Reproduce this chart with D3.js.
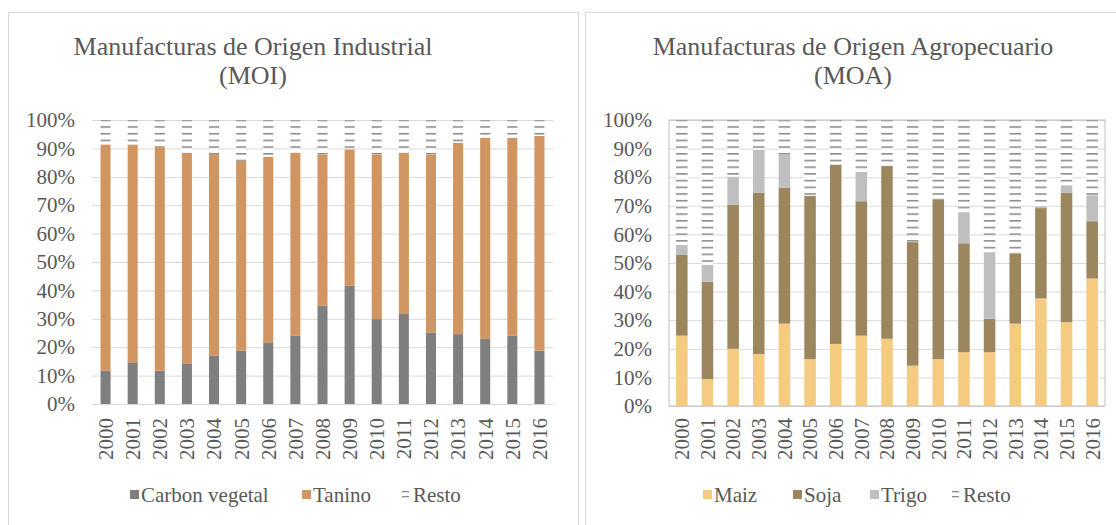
<!DOCTYPE html>
<html>
<head>
<meta charset="utf-8">
<script src="https://cdn.jsdelivr.net/npm/d3@7"></script>
<style>
  body { margin: 0; background: #fff; }
  text { font-family: "Liberation Serif", "Times New Roman", Times, serif; fill: #595959; }
</style>
</head>
<body>
<div id="chart"></div>
<script>
// years on the x axis (both charts)
var years = ["2000", "2001", "2002", "2003", "2004", "2005", "2006", "2007", "2008",
  "2009", "2010", "2011", "2012", "2013", "2014", "2015", "2016"];
var yTicks = [0, 10, 20, 30, 40, 50, 60, 70, 80, 90, 100];
var yTickLabels = ["0%", "10%", "20%", "30%", "40%", "50%", "60%", "70%", "80%", "90%", "100%"];

// MOI shares (%)
var carbonVegetal = [11.7, 14.7, 11.7, 14.1, 17.0, 18.8, 21.7, 24.0, 34.6, 41.6, 29.9, 31.7, 25.2, 24.6, 22.9, 24.0, 18.8];
var tanino = [79.7, 76.7, 78.8, 74.4, 71.0, 66.8, 65.4, 64.5, 53.3, 48.1, 58.0, 56.8, 62.7, 67.4, 70.9, 69.8, 75.6];
var restoMOI = [8.6, 8.6, 9.5, 11.5, 12.0, 14.4, 12.9, 11.5, 12.1, 10.3, 12.1, 11.5, 12.1, 8.0, 6.2, 6.2, 5.6];

// MOA shares (%)
var maiz = [24.6, 9.4, 20.0, 18.2, 28.8, 16.4, 21.7, 24.6, 23.5, 14.1, 16.4, 18.8, 18.8, 28.8, 37.6, 29.3, 44.6];
var soja = [28.2, 34.0, 50.4, 56.3, 47.5, 57.0, 62.6, 47.0, 60.4, 43.2, 55.9, 38.1, 11.7, 24.6, 31.6, 45.2, 20.0];
var trigo = [3.5, 5.9, 9.8, 15.1, 11.5, 0.2, 0.2, 10.3, 0.2, 0.4, 0.3, 10.9, 23.3, 0.3, 0.2, 2.7, 9.1];
var restoMOA = [43.7, 50.7, 19.8, 10.4, 12.2, 26.4, 15.5, 18.1, 15.9, 42.3, 27.4, 32.2, 46.2, 46.3, 30.6, 22.8, 26.3];

var serif = "'Liberation Serif', 'Times New Roman', Times, serif";

var svg = d3.select("#chart")
  .append("svg")
  .attr("width", 1116)
  .attr("height", 525)
  .attr("font-family", serif);

// hatched fill for "Resto": short horizontal dashes
var defs = svg.append("defs");
var pat = defs.append("pattern")
  .attr("id", "resto")
  .attr("patternUnits", "userSpaceOnUse")
  .attr("width", 20)
  .attr("height", 6.7)
  .attr("y", 119.5);
pat.append("rect").attr("width", 20).attr("height", 6.7).attr("fill", "#fff");
pat.append("rect").attr("y", 0).attr("width", 20).attr("height", 1.6).attr("fill", "#8c8c8c");

// panel frames
svg.append("rect")
  .attr("x", 8.5).attr("y", 12.5).attr("width", 570).attr("height", 530)
  .attr("fill", "none").attr("stroke", "#d9d9d9");
svg.append("rect")
  .attr("x", 585.5).attr("y", 12.5).attr("width", 540).attr("height", 530)
  .attr("fill", "none").attr("stroke", "#d9d9d9");

function drawPanel(opts) {
  var rows = years.map(function(y, i) {
    var r = { year: y };
    opts.series.forEach(function(s) { r[s.name] = s.values[i]; });
    return r;
  });

  var xScale = d3.scaleBand()
    .domain(years)
    .range([opts.left, opts.right])
    .paddingInner(opts.pad)
    .paddingOuter(opts.pad / 2);
  var yScale = d3.scaleLinear().domain([0, 100]).range([opts.bottom, opts.top]);

  var g = svg.append("g");

  // gridlines + y labels
  var yAxis = d3.axisLeft(yScale)
    .tickValues(yTicks)
    .tickSize(-(opts.right - opts.left))
    .tickPadding(17)
    .tickFormat(function(d, i) { return yTickLabels[i]; });
  var ya = g.append("g")
    .attr("transform", "translate(" + opts.left + ",0)")
    .call(yAxis)
    .attr("font-family", serif)
    .attr("font-size", 21);
  ya.select(".domain").remove();
  ya.selectAll("line").attr("stroke", "#d9d9d9");
  ya.selectAll("text").attr("fill", "#595959");

  if (opts.frame) {
    g.append("rect")
      .attr("x", opts.left).attr("y", yScale(100))
      .attr("width", opts.right - opts.left).attr("height", yScale(0) - yScale(100))
      .attr("fill", "none").attr("stroke", "#bfbfbf");
  }

  // stacked bars
  var stack = d3.stack().keys(opts.series.map(function(s) { return s.name; }));
  var layers = stack(rows);
  g.selectAll(".layer")
    .data(layers)
    .enter().append("g")
      .attr("class", "layer")
      .attr("fill", function(d, i) { return opts.series[i].color; })
    .selectAll("rect")
    .data(function(d) { return d; })
    .enter().append("rect")
      .attr("x", function(d) { return xScale(d.data.year); })
      .attr("width", xScale.bandwidth())
      .attr("y", function(d) { return yScale(d[1]); })
      .attr("height", function(d) { return yScale(d[0]) - yScale(d[1]); });

  // x labels, rotated
  var xAxis = d3.axisBottom(xScale).tickSize(0);
  var xa = g.append("g")
    .attr("transform", "translate(0," + opts.bottom + ")")
    .call(xAxis)
    .attr("font-family", serif)
    .attr("font-size", 21);
  xa.select(".domain").remove();
  xa.selectAll("text")
    .attr("transform", "rotate(-90)")
    .attr("text-anchor", "end")
    .attr("x", -opts.labelGap)
    .attr("y", 0)
    .attr("dy", "0.35em")
    .attr("fill", "#595959");

  // title
  g.selectAll(".title")
    .data(opts.title)
    .enter().append("text")
      .attr("class", "title")
      .attr("x", opts.titleX)
      .attr("y", function(d, i) { return 55 + i * 29; })
      .attr("text-anchor", "middle")
      .attr("font-size", 26)
      .text(function(d) { return d; });

  // legend
  opts.series.forEach(function(s, i) {
    var lx = opts.legendX[i];
    if (s.name == "Resto") {
      g.append("rect").attr("x", lx).attr("y", 491).attr("width", 7).attr("height", 1.3).attr("fill", "#8c8c8c");
      g.append("rect").attr("x", lx).attr("y", 496).attr("width", 7).attr("height", 1.3).attr("fill", "#8c8c8c");
    } else {
      g.append("rect").attr("x", lx).attr("y", 490).attr("width", 9).attr("height", 9).attr("fill", s.color);
    }
    g.append("text")
      .attr("x", lx + 11)
      .attr("y", 502)
      .attr("font-size", 21)
      .text(s.name);
  });
}

drawPanel({
  left: 92, right: 553, top: 120, bottom: 404, pad: 0.63, frame: false, labelGap: 14,
  title: ["Manufacturas de Origen Industrial", "(MOI)"], titleX: 253,
  legendX: [130, 302, 402],
  series: [
    { name: "Carbon vegetal", values: carbonVegetal, color: "#7f7f7f" },
    { name: "Tanino", values: tanino, color: "#d09560" },
    { name: "Resto", values: restoMOI, color: "url(#resto)" }
  ]
});

drawPanel({
  left: 669, right: 1105, top: 120, bottom: 406, pad: 0.55, frame: true, labelGap: 12,
  title: ["Manufacturas de Origen Agropecuario", "(MOA)"], titleX: 853,
  legendX: [703, 793, 870, 952],
  series: [
    { name: "Maiz", values: maiz, color: "#f5cb82" },
    { name: "Soja", values: soja, color: "#9c865e" },
    { name: "Trigo", values: trigo, color: "#bfbfbf" },
    { name: "Resto", values: restoMOA, color: "url(#resto)" }
  ]
});
</script>
</body>
</html>
